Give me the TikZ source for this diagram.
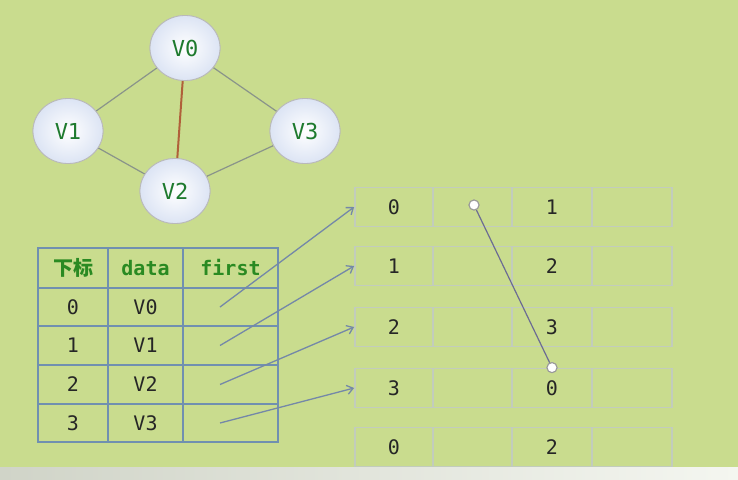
\documentclass[tikz,border=0pt]{standalone}
\usepackage{fontspec}
\setmonofont{DejaVu Sans Mono}
\newfontfamily\cjk{Noto Sans CJK SC}
\usetikzlibrary{shapes.geometric,arrows.meta}
\definecolor{bg}{HTML}{C9DC8E}
\definecolor{bandl}{HTML}{D0D4C8}
\definecolor{bandr}{HTML}{F4F6F0}
\definecolor{vtext}{HTML}{1E7A2E}
\definecolor{htext}{HTML}{2A8A22}
\definecolor{tline}{HTML}{7090B0}
\definecolor{lline}{HTML}{C2CCBC}
\definecolor{arr}{HTML}{7488A8}
\definecolor{gedge}{HTML}{8A948A}
\definecolor{redge}{HTML}{B0603A}
\definecolor{vfillo}{HTML}{DCE4F4}
\begin{document}
\begin{tikzpicture}[x=1pt,y=-1pt,
  vert/.style={ellipse, minimum width=70pt, minimum height=65pt, inner sep=0pt,
    draw=gray!55, line width=0.8pt, inner color=white, outer color=vfillo,
    font=\ttfamily\fontsize{22}{26}\selectfont, text=vtext},
  tcell/.style={rectangle, draw=tline, line width=1.5pt, inner sep=0pt,
    font=\ttfamily\fontsize{20}{24}\selectfont, text=black!85},
  thead/.style={tcell, font=\ttfamily\bfseries\fontsize{20}{24}\selectfont, text=htext},
  lcell/.style={rectangle, draw=lline, line width=1.8pt, inner sep=0pt,
    minimum height=39pt, font=\ttfamily\fontsize{20}{24}\selectfont, text=black!85},
  gline/.style={draw=gedge, line width=1.2pt},
  tarrow/.style={draw=arr, line width=1.3pt, -{Straight Barb[length=6pt,width=9pt]}},
  knob/.style={circle, draw=gray!80, fill=white, line width=1pt, minimum size=10pt, inner sep=0pt}
]
\useasboundingbox (0,0) rectangle (738,479);
\fill[bg] (0,0) rectangle (738,479);
\shade[left color=bandl, right color=bandr] (0,467) rectangle (738,479);

% graph
\node[vert] (V0) at (185,48) {V0};
\node[vert] (V1) at (68,131) {V1};
\node[vert] (V2) at (175,191) {V2};
\node[vert] (V3) at (305,131) {V3};
\draw[gline] (V0) -- (V1);
\draw[gline] (V0) -- (V3);
\draw[gline] (V1) -- (V2);
\draw[gline] (V2) -- (V3);
\draw[draw=redge, line width=2pt] (V0) -- (V2);
\node[vert] at (V0) {V0};
\node[vert] at (V1) {V1};
\node[vert] at (V2) {V2};
\node[vert] at (V3) {V3};

% table
\node[thead, minimum width=70pt, minimum height=40pt] (h1) at (73,268) {{\cjk\bfseries 下标}};
\node[thead, minimum width=75pt, minimum height=40pt] (h2) at (145.5,268) {data};
\node[thead, minimum width=95pt, minimum height=40pt] (h3) at (230.5,268) {first};
\foreach \i/\v/\y/\h in {0/V0/307/38,1/V1/345.5/39,2/V2/384.5/39,3/V3/423/38}{
  \node[tcell, minimum width=70pt, minimum height=\h pt] (a\i) at (73,\y) {\i};
  \node[tcell, minimum width=75pt, minimum height=\h pt] (b\i) at (145.5,\y) {\v};
  \node[tcell, minimum width=95pt, minimum height=\h pt] (c\i) at (230.5,\y) {};
  \coordinate (s\i) at (220,\y);
}

% adjacency lists
\foreach \r/\y/\p/\q in {0/207/0/1,1/266/1/2,2/327/2/3,3/388/3/0,4/447/0/2}{
  \node[lcell, minimum width=78pt] (l\r a) at (394,\y) {\p};
  \node[lcell, minimum width=79pt] (l\r b) at (472.5,\y) {};
  \node[lcell, minimum width=80pt] (l\r c) at (552,\y) {\q};
  \node[lcell, minimum width=80pt] (l\r d) at (632,\y) {};
}

% arrows from table
\draw[tarrow] (s0) -- (l0a.west);
\draw[tarrow] (s1) -- (l1a.west);
\draw[tarrow] (s2) -- (l2a.west);
\draw[tarrow] (s3) -- (l3a.west);

% pointer
\node[knob] (k1) at (474,205) {};
\node[knob] (k2) at (l3c.north) {};
\draw[draw=gray!85!blue, line width=1.2pt] (k1) -- (k2);
\node[knob] at (k1) {};
\node[knob] at (k2) {};
\end{tikzpicture}
\end{document}
